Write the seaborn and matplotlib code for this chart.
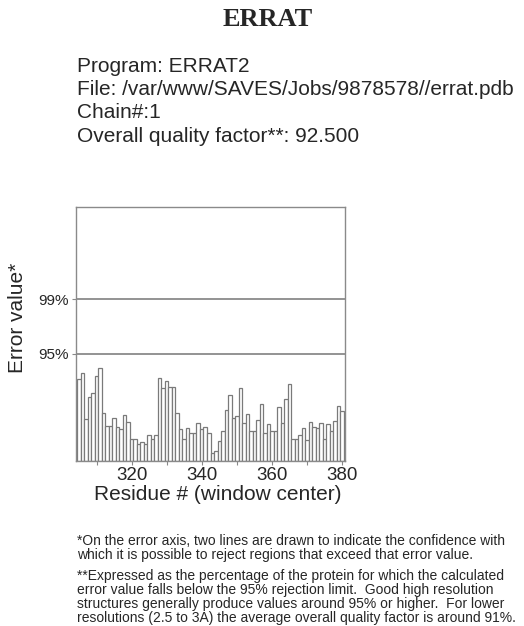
import numpy as np
import pandas as pd
import seaborn as sns
import matplotlib.pyplot as plt
from matplotlib.ticker import MultipleLocator

# Residue numbers (window center) and ERRAT error values
residues = list(range(305, 381))
errors = [8.7, 9.3, 4.5, 6.8, 7.2, 9.0, 9.9, 5.1, 3.7, 3.7,
          4.6, 3.6, 3.4, 4.9, 4.1, 2.3, 2.3, 1.8, 2.0, 1.8,
          2.8, 2.3, 2.8, 8.8, 7.8, 8.5, 7.9, 7.9, 5.1, 3.4,
          2.3, 3.5, 3.0, 3.0, 4.0, 3.4, 3.6, 3.0, 0.8, 1.1,
          2.1, 3.2, 5.4, 7.0, 4.6, 4.8, 7.7, 4.0, 5.0, 3.2,
          3.2, 4.4, 6.1, 3.0, 3.9, 3.2, 3.2, 5.7, 4.0, 6.6,
          8.2, 2.3, 2.3, 2.8, 3.5, 2.2, 4.1, 3.6, 3.5, 4.0,
          2.3, 3.9, 3.2, 4.2, 5.8, 5.3]

# rejection limits (error value) and their labels
limit_values = [17.19, 11.36]
limit_labels = ["99%", "95%"]

header_lines = ["Program: ERRAT2",
                "File: /var/www/SAVES/Jobs/9878578//errat.pdb",
                "Chain#:1",
                "Overall quality factor**: 92.500"]

note1 = ("*On the error axis, two lines are drawn to indicate the confidence with\n"
         "which it is possible to reject regions that exceed that error value.")
note2 = ("**Expressed as the percentage of the protein for which the calculated\n"
         "error value falls below the 95% rejection limit.  Good high resolution\n"
         "structures generally produce values around 95% or higher.  For lower\n"
         "resolutions (2.5 to 3A) the average overall quality factor is around 91%.")

df = pd.DataFrame({"residue": residues, "error": errors})

sns.set_style("white")
plt.rcParams["font.family"] = ["Liberation Sans", "DejaVu Sans"]

W, H = 524, 626
fig = plt.figure(figsize=(W / 100, H / 100), dpi=100)

# axes box in pixel coordinates of the reference
left, right, top, bottom = 76, 345, 207, 461
ax = fig.add_axes([left / W, 1 - bottom / H, (right - left) / W, (bottom - top) / H])

sns.barplot(data=df, x="residue", y="error", native_scale=True, width=1.0,
            color="white", edgecolor="#7a7a7a", linewidth=0.9, ax=ax)

for v in limit_values:
    ax.axhline(v, color="#8a8a8a", lw=1.3, zorder=3)

ax.set_xlim(304.1, 380.9)
ax.set_ylim(0, 26.96)
ax.xaxis.set_major_locator(MultipleLocator(20))
ax.xaxis.set_minor_locator(MultipleLocator(10))
ax.set_yticks(limit_values)
ax.set_yticklabels(limit_labels)
ax.tick_params(axis="x", which="both", direction="out", length=3, width=0.8,
               color="#888888", labelsize=13.5, pad=1, bottom=True)
ax.tick_params(axis="y", direction="out", length=3, width=0.8, color="#888888",
               labelsize=11, pad=2, left=True)
ax.set_xlabel("")
ax.set_ylabel("")
for s in ax.spines.values():
    s.set_color("#8a8a8a")
    s.set_linewidth(1.0)

def fy(py):
    return 1 - py / H

fig.text(268 / W, fy(20), "ERRAT", family=["Liberation Serif"], weight="bold",
         fontsize=19, ha="center", va="center")
for i, line in enumerate(header_lines):
    fig.text(77 / W, fy(66 + i * 23.5), line, fontsize=15, ha="left", va="center")

fig.text(18 / W, fy(318), "Error value*", fontsize=15, rotation=90,
         ha="center", va="center")
fig.text(218 / W, fy(494), "Residue # (window center)", fontsize=15,
         ha="center", va="center")

fig.text(77 / W, fy(534), note1, fontsize=10, ha="left", va="top", linespacing=1.0)
fig.text(77 / W, fy(569), note2, fontsize=10, ha="left", va="top", linespacing=1.0)

fig.savefig("out.png", dpi=100, facecolor="white")
